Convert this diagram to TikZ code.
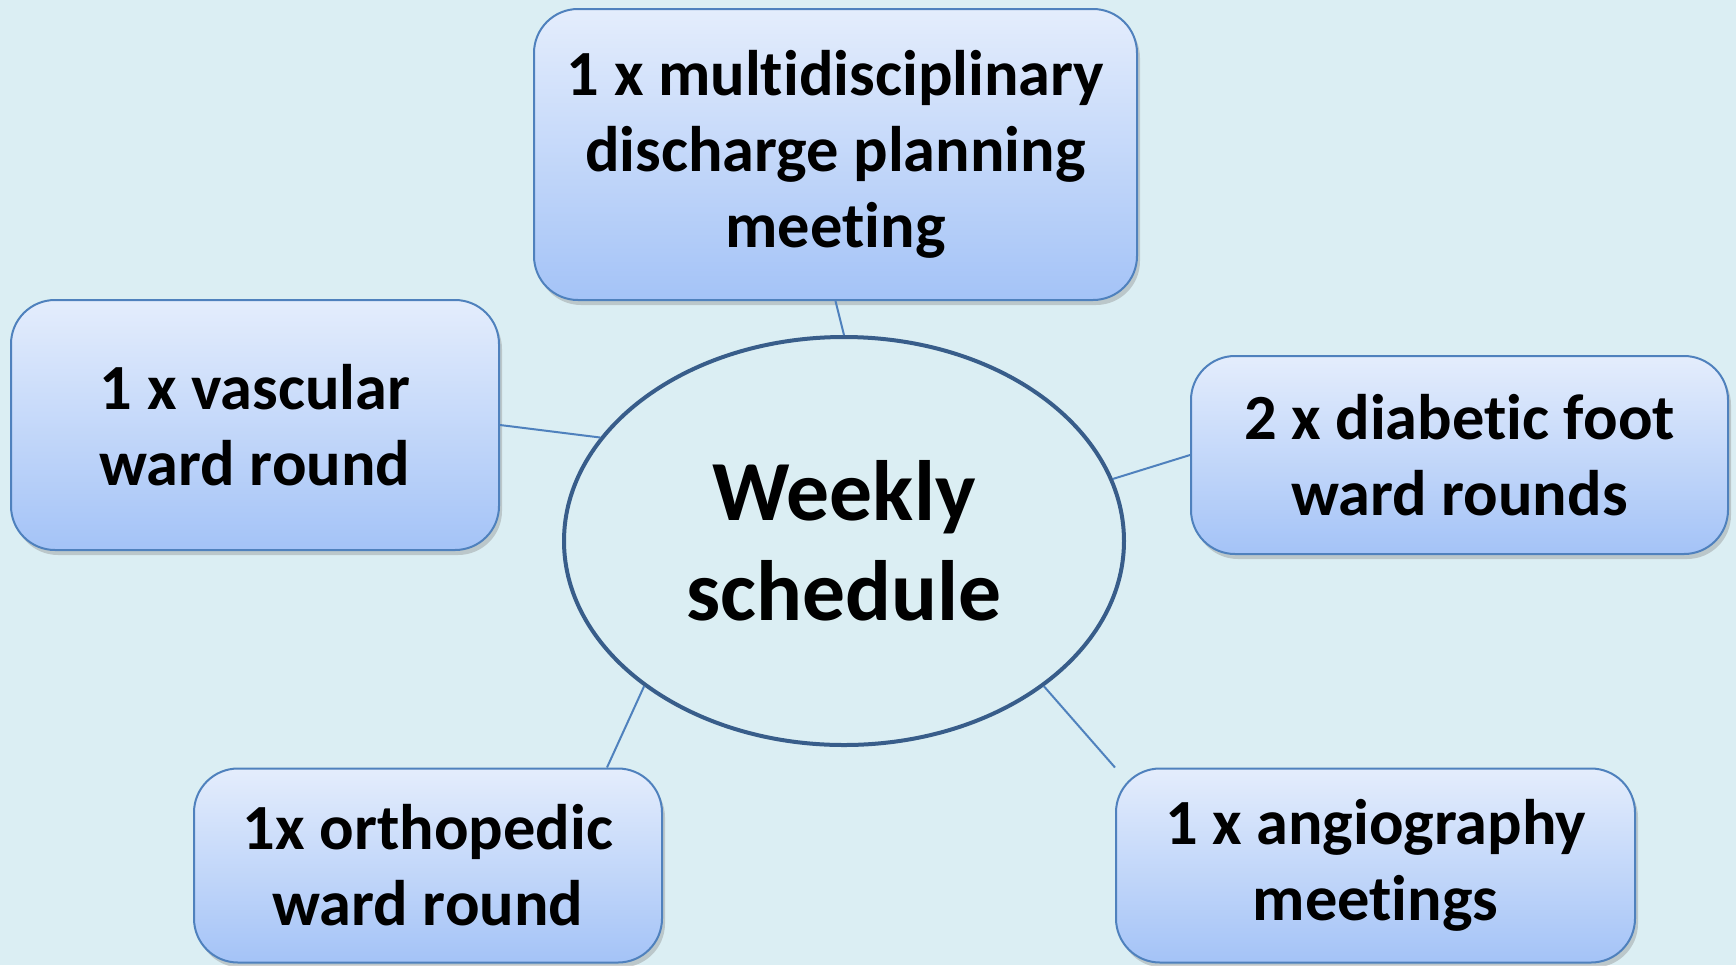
\documentclass[tikz,border=0pt]{standalone}
\usepackage{fontspec}
\setmainfont{Carlito}[Ligatures=NoCommon]
\usetikzlibrary{shadows}
\usetikzlibrary{shapes.geometric}

\definecolor{bgcol}{RGB}{219,238,243}
\definecolor{boxtop}{RGB}{228,237,252}
\definecolor{boxbottom}{RGB}{164,195,247}
\definecolor{boxline}{RGB}{79,129,189}
\definecolor{ringline}{RGB}{56,93,138}

\begin{document}
\begin{tikzpicture}[x=0.5pt,y=-0.5pt,
    task/.style={draw=boxline,line width=1pt,rounded corners=22pt,
        top color=boxtop,bottom color=boxbottom,
        drop shadow={shadow xshift=1.5pt,shadow yshift=-2.5pt,opacity=0.35},
        align=center,font=\fontsize{32.2}{37.9}\selectfont\bfseries,inner sep=0pt},
    hub/.style={draw=ringline,line width=2pt,ellipse,inner sep=0pt,
        minimum width=280pt,minimum height=204pt,align=center,
        font=\fontsize{42.8}{49.8}\selectfont\bfseries},
    link/.style={draw=boxline,line width=1pt}]

    \useasboundingbox (0,0) rectangle (1736,965);
    \clip (0,0) rectangle (1736,965);
    \fill [bgcol] (0,0) rectangle (1736,965);

    \node (sched) at (844,541) [hub] {Weekly\\schedule};

    \node (mdt) at (835.5,154.5) [task,minimum width=301.5pt,minimum height=145.5pt]
        {1 x multidisciplinary\\discharge planning\\meeting};
    \node (vasc) at (255,425) [task,minimum width=244pt,minimum height=125pt]
        {1 x vascular\\ward round};
    \node (foot) at (1459.5,455) [task,minimum width=268.5pt,minimum height=99pt]
        {2 x diabetic foot\\ward rounds};
    \node (ortho) at (428,865.5) [task,minimum width=234pt,minimum height=97pt]
        {1x orthopedic\\ward round};
    \node (angio) at (1375.5,865.5) [task,minimum width=259.5pt,minimum height=97pt]
        {1 x angiography\\meetings};

    \draw [link] (mdt.south) -- (sched.north);
    \draw [link] (vasc.east) -- (sched.157);
    \draw [link] (foot.west) -- (sched.13);
    \draw [link] ([xshift=-28pt]ortho.north east) -- (sched.216);
    \draw [link] (angio.north west) -- (sched.-36);

\end{tikzpicture}
\end{document}
